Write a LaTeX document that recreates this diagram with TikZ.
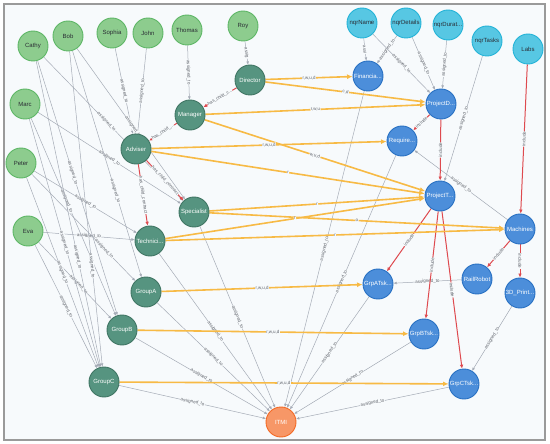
\documentclass[tikz,border=0pt]{standalone}
\usepackage{fontspec}
\setmainfont{Liberation Sans}
\usetikzlibrary{arrows.meta}
\definecolor{canvas}{HTML}{F7FAFC}
\definecolor{frame}{HTML}{9A9A9A}
\definecolor{ink}{HTML}{2A2C34}
\definecolor{muted}{HTML}{5F636B}
\definecolor{lgreen}{HTML}{8DCC8E}
\definecolor{lgreenrim}{HTML}{5DB665}
\definecolor{dgreen}{HTML}{569480}
\definecolor{dgreenrim}{HTML}{3F7563}
\definecolor{qcyan}{HTML}{57C7E3}
\definecolor{qcyanrim}{HTML}{23B3D7}
\definecolor{tblue}{HTML}{4C8EDA}
\definecolor{tbluerim}{HTML}{2870C2}
\definecolor{orgfill}{HTML}{F79767}
\definecolor{orgrim}{HTML}{F36924}
\definecolor{wire}{HTML}{A5ABB6}
\definecolor{perm}{HTML}{F7BA45}
\definecolor{child}{HTML}{DE4A4F}
\newcommand{\nodefont}{\fontsize{6}{7}\selectfont}
\newcommand{\tagfont}{\fontsize{4.5}{5}\selectfont}
\pgfdeclarelayer{back}
\pgfdeclarelayer{wires}
\pgfsetlayers{back,wires,main}

\begin{document}
\begin{tikzpicture}[x=1pt,y=-1pt,font=\nodefont,
  bubble/.style={circle,minimum size=30pt,inner sep=0,line width=0.9pt},
  person/.style={bubble,fill=lgreen,draw=lgreenrim,text=ink},
  role/.style={bubble,fill=dgreen,draw=dgreenrim,text=white},
  query/.style={bubble,fill=qcyan,draw=qcyanrim,text=ink},
  item/.style={bubble,fill=tblue,draw=tbluerim,text=white},
  org/.style={bubble,fill=orgfill,draw=orgrim,text=white},
  asg/.style={wire,line width=0.5pt,-{Latex[length=3.2pt,width=2.8pt]}},
  grant/.style={perm,line width=1.6pt,-{Latex[length=5.5pt,width=5pt]}},
  incl/.style={child,line width=1pt,-{Latex[length=4pt,width=3.6pt]}},
  tag/.style={sloped,fill=canvas,inner sep=0.4pt,font=\tagfont,text=muted}]
\useasboundingbox (0,0) rectangle (550,444);
\begin{pgfonlayer}{back}
\fill[white] (0,0) rectangle (550,444);
\draw[frame,fill=canvas,line width=1.2pt] (4,4) rectangle (545,440);
\end{pgfonlayer}
\node[person] (cathy) at (33,46) {Cathy};
\node[person] (bob) at (68,36) {Bob};
\node[person] (sophia) at (112,33) {Sophia};
\node[person] (john) at (148,33) {John};
\node[person] (thomas) at (187,30) {Thomas};
\node[person] (roy) at (243,26) {Roy};
\node[person] (marc) at (25,104) {Marc};
\node[person] (peter) at (21,163) {Peter};
\node[person] (eva) at (28,231) {Eva};
\node[role] (director) at (250,80) {Director};
\node[role] (manager) at (190,115) {Manager};
\node[role] (adviser) at (136,149) {Adviser};
\node[role] (specialist) at (194,212) {Specialist};
\node[role] (technician) at (150,241) {Technici...};
\node[role] (groupa) at (146,292) {GroupA};
\node[role] (groupb) at (122,330) {GroupB};
\node[role] (groupc) at (104,382) {GroupC};
\node[org] (itmi) at (281,422) {ITMI};
\node[query] (qname) at (362,23) {nqrName};
\node[query] (qdetails) at (406,23) {nqrDetails};
\node[query] (qdur) at (448,25) {nqrDurat...};
\node[query] (qtasks) at (487,41) {nqrTasks};
\node[query] (labs) at (528,49) {Labs};
\node[item] (financial) at (368,76) {Financia...};
\node[item] (projd) at (441,104) {ProjectD...};
\node[item] (require) at (402,141) {Require...};
\node[item] (projt) at (440,196) {ProjectT...};
\node[item] (machines) at (520,229) {Machines};
\node[item] (grpa) at (378,284) {GrpATsk...};
\node[item] (railrobot) at (477,279) {RailRobot};
\node[item] (printer) at (520,293) {3D\_Print...};
\node[item] (grpb) at (424,334) {GrpBTsk...};
\node[item] (grpc) at (464,384) {GrpCTsk...};
\begin{pgfonlayer}{wires}
\draw[asg] (roy) -- node[tag] {assig} (director);
\draw[asg] (thomas) -- node[tag] {assigned\_to} (manager);
\draw[asg] (sophia) -- node[tag] {assigned\_to} (adviser);
\draw[asg] (john) -- node[tag] {assigned\_to} (adviser);
\draw[asg] (cathy) -- node[tag,pos=0.45] {assigned\_to} (specialist);
\draw[asg] (bob) -- node[tag,pos=0.52] {assigned\_to} (specialist);
\draw[asg] (marc) -- node[tag] {assigned\_to} (specialist);
\draw[asg] (peter) -- node[tag] {assigned\_to} (technician);
\draw[asg] (eva) -- node[tag] {assigned\_to} (technician);
\draw[asg] (bob) -- node[tag,pos=0.62] {assigned\_to} (groupa);
\draw[asg] (peter) -- node[tag,pos=0.7] {assigned\_to} (groupa);
\draw[asg] (cathy) -- node[tag,pos=0.44] {assigned\_to} (groupb);
\draw[asg] (marc) -- node[tag,pos=0.42] {assigned\_to} (groupb);
\draw[asg] (eva) -- node[tag,pos=0.55] {assigned\_to} (groupb);
\draw[asg] (cathy) -- node[tag,pos=0.64] {assigned\_to} (groupc);
\draw[asg] (bob) -- node[tag,pos=0.68] {assigned\_to} (groupc);
\draw[asg] (marc) -- node[tag] {assigned\_to} (groupc);
\draw[asg] (peter) -- node[tag] {assigned\_to} (groupc);
\draw[asg] (eva) -- node[tag] {assigned\_to} (groupc);
\draw[asg] (specialist) -- node[tag] {assigned\_to} (itmi);
\draw[asg] (technician) -- node[tag] {assigned\_to} (itmi);
\draw[asg] (groupa) -- node[tag] {assigned\_to} (itmi);
\draw[asg] (groupb) -- node[tag] {assigned\_to} (itmi);
\draw[asg] (groupc) -- node[tag] {assigned\_to} (itmi);
\draw[asg] (financial) -- node[tag] {assigned\_to} (itmi);
\draw[asg] (require) -- node[tag] {assigned\_to} (itmi);
\draw[asg] (grpa) -- node[tag] {assigned\_to} (itmi);
\draw[asg] (grpb) -- node[tag] {assigned\_to} (itmi);
\draw[asg] (grpc) -- node[tag] {assigned\_to} (itmi);
\draw[asg] (qname) -- node[tag] {assi} (financial);
\draw[asg] (qdetails) -- node[tag] {assigned\_to} (financial);
\draw[asg] (qname) -- node[tag] {assigned\_to} (projd);
\draw[asg] (qdetails) -- node[tag] {assigned\_to} (projd);
\draw[asg] (qdur) -- node[tag] {assigned\_to} (projd);
\draw[asg] (qtasks) -- node[tag] {assigned\_to} (projt);
\draw[asg] (machines) -- node[tag] {assigned\_to} (require);
\draw[asg] (railrobot) -- node[tag] {assigned\_to} (grpa);
\draw[asg] (printer) -- node[tag] {assigned\_to} (grpc);
\draw[incl] (director) -- node[tag] {has\_child\_c...} (manager);
\draw[incl] (manager) -- node[tag] {has\_child\_...} (adviser);
\draw[incl] (adviser) -- node[tag] {has\_child\_contract} (specialist);
\draw[incl] (adviser) -- node[tag] {has\_child\_contract} (technician);
\draw[incl] (labs) -- node[tag] {include} (machines);
\draw[incl] (projd) -- node[tag] {include} (require);
\draw[incl] (projd) -- node[tag] {include} (projt);
\draw[incl] (projt) -- node[tag] {include} (grpa);
\draw[incl] (projt) -- node[tag] {include} (grpb);
\draw[incl] (projt) -- node[tag] {include} (grpc);
\draw[incl] (machines) -- node[tag] {include} (railrobot);
\draw[incl] (machines) -- node[tag] {include} (printer);
\draw[grant] (director) -- node[tag] {r,w,u,d} (financial);
\draw[grant] (director) -- node[tag] {c,d} (projd);
\draw[grant] (manager) -- node[tag] {r,w,u} (projd);
\draw[grant] (manager) -- node[tag] {w,u,d} (projt);
\draw[grant] (adviser) -- node[tag] {r,w,u,d} (require);
\draw[grant] (adviser) -- node[tag] {r} (projt);
\draw[grant] (specialist) -- node[tag] {r} (projt);
\draw[grant] (specialist) -- node[tag] {o} (machines);
\draw[grant] (technician) -- node[tag] {r} (projt);
\draw[grant] (technician) -- node[tag] {r} (machines);
\draw[grant] (groupa) -- node[tag] {r,w,u,d} (grpa);
\draw[grant] (groupb) -- node[tag] {r,w,u,d} (grpb);
\draw[grant] (groupc) -- node[tag] {r,w,u,d} (grpc);
\end{pgfonlayer}
\end{tikzpicture}
\end{document}
